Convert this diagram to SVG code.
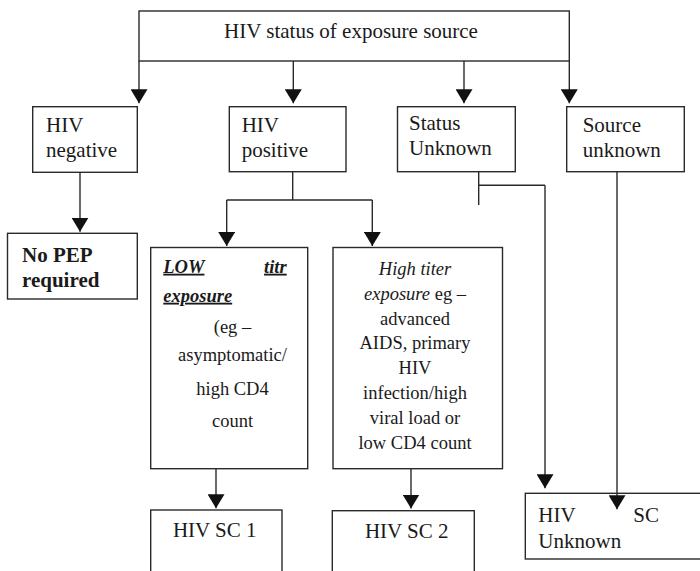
<svg xmlns="http://www.w3.org/2000/svg" width="700" height="571" viewBox="0 0 700 571">
<style>
.box{fill:#fff;stroke:#2a2a2a;stroke-width:1.4}
.ln{fill:none;stroke:#2a2a2a;stroke-width:1.4}
.arr{marker-end:url(#ah)}
text{fill:#1a1a1a}
.t21{font-size:21px}
.t18{font-size:18.5px}
.b{font-weight:bold}
.bi{font-weight:bold;font-style:italic;text-decoration:underline}
.i{font-style:italic}
.m{text-anchor:middle}
</style>
<defs>
<marker id="ah" viewBox="0 0 14 17" refX="14" refY="8.5" markerWidth="14" markerHeight="17" markerUnits="userSpaceOnUse" orient="auto">
<path d="M0,0 L14,8.5 L0,17 z" fill="#111"/>
</marker>
</defs>

<g id="connectors">
<path class="ln arr" d="M139,61 V103.3"/>
<path class="ln arr" d="M293.3,61 V103.3"/>
<path class="ln arr" d="M464,61 V103.3"/>
<path class="ln arr" d="M569.3,61 V103.3"/>
<path class="ln arr" d="M80,172.3 V231.7"/>
<path class="ln" d="M292.7,171.7 V200 M226.7,200 H372.3"/>
<path class="ln arr" d="M226.7,200 V246"/>
<path class="ln arr" d="M372.3,200 V246"/>
<path class="ln" d="M478.7,166 V205 M478.7,185.3 H545"/>
<path class="ln arr" d="M545,185.3 V488.3"/>
<path class="ln arr" d="M216,468.7 V508.3"/>
<path class="ln arr" d="M411,468.7 V508.5"/>
</g>

<g font-family="'Liberation Serif', 'Times New Roman', Times, serif">
<g id="n-source">
<rect class="box" x="139" y="11" width="430.3" height="50"/>
<text class="t21 m" x="351" y="37.7">HIV status of exposure source</text>
</g>

<g id="n-negative">
<rect class="box" x="32.7" y="106.7" width="104.6" height="65.6"/>
<text class="t21" x="46" y="131.7">HIV</text>
<text class="t21" x="46" y="157.3">negative</text>
</g>

<g id="n-positive">
<rect class="box" x="229.3" y="106.7" width="116.7" height="65"/>
<text class="t21" x="241.7" y="131.7">HIV</text>
<text class="t21" x="241.7" y="157.3">positive</text>
</g>

<g id="n-status-unknown">
<rect class="box" x="397.5" y="106.7" width="117.8" height="65"/>
<text class="t21" x="409" y="130">Status</text>
<text class="t21" x="409" y="155">Unknown</text>
</g>

<g id="n-source-unknown">
<rect class="box" x="566.7" y="106.7" width="117.6" height="65"/>
<text class="t21" x="582.7" y="131.7">Source</text>
<text class="t21" x="582.7" y="156.7">unknown</text>
</g>

<g id="n-nopep">
<rect class="box" x="7.5" y="233.3" width="129.8" height="65.7"/>
<text class="t21 b" x="22" y="261.7">No PEP</text>
<text class="t21 b" x="22" y="287.3">required</text>
</g>

<g id="n-low">
<rect class="box" x="150.7" y="247.5" width="157" height="221.2"/>
<text class="t18 bi" x="163.3" y="272.7">LOW</text>
<text class="t18 bi" x="286.7" y="272.7" text-anchor="end">titr</text>
<text class="t18 bi" x="163.3" y="301.7">exposure</text>
<text class="t18 m" x="232.5" y="332.7">(eg –</text>
<text class="t18 m" x="232.5" y="361">asymptomatic/</text>
<text class="t18 m" x="232.5" y="395">high CD4</text>
<text class="t18 m" x="232.5" y="426.7">count</text>
</g>

<g id="n-high">
<rect class="box" x="333" y="247.5" width="169.5" height="221.2"/>
<text class="t18 m i" x="415" y="275">High titer</text>
<text class="t18 m" x="415" y="300"><tspan class="i">exposure</tspan> eg –</text>
<text class="t18 m" x="415" y="324.5">advanced</text>
<text class="t18 m" x="415" y="349">AIDS, primary</text>
<text class="t18 m" x="415" y="374">HIV</text>
<text class="t18 m" x="415" y="399">infection/high</text>
<text class="t18 m" x="415" y="424">viral load or</text>
<text class="t18 m" x="415" y="449.3">low CD4 count</text>
</g>

<g id="n-sc1">
<rect class="box" x="150.7" y="510" width="131.3" height="80"/>
<text class="t21 m" x="214.7" y="536.7">HIV SC 1</text>
</g>

<g id="n-sc2">
<rect class="box" x="332.3" y="510.7" width="142" height="80"/>
<text class="t21 m" x="406.7" y="537.5">HIV SC 2</text>
</g>

<g id="n-sc-unknown">
<rect class="box" x="525.3" y="493.3" width="190" height="65.7"/>
<text class="t21" x="538.3" y="521.7">HIV</text>
<text class="t21" x="633.3" y="522.3">SC</text>
<text class="t21" x="538.3" y="548.3">Unknown</text>
</g>
</g>

<g id="connectors-over">
<path class="ln arr" d="M617,171.7 V509.3"/>
</g>
</svg>
